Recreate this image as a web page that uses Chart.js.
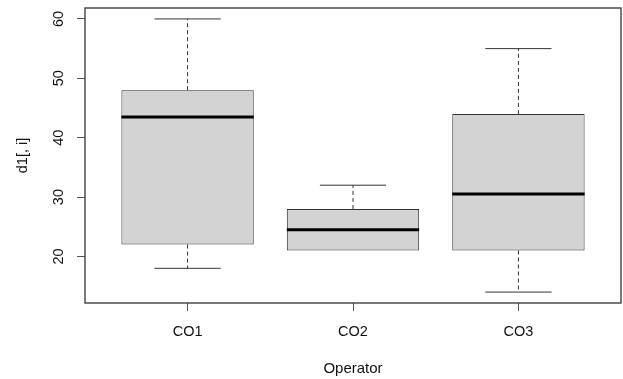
<!DOCTYPE html>
<html>
<head>
<meta charset="utf-8">
<script src="https://cdn.jsdelivr.net/npm/chart.js@4/dist/chart.umd.min.js"></script>
<style>
  html, body { margin: 0; padding: 0; background: #fff; }
  #wrap { width: 623px; height: 379px; }
</style>
</head>
<body>
<div id="wrap"><canvas id="c" width="623" height="379"></canvas></div>
<script>
// Five-number summaries per operator
const categories   = ['CO1', 'CO2', 'CO3'];
const lowerWhisker = [18, 21, 14];
const lowerHinge   = [22, 21, 21];
const medians      = [43.5, 24.5, 30.5];
const upperHinge   = [48, 28, 44];
const upperWhisker = [60, 32, 55];
const yTicks       = [20, 30, 40, 50, 60];

const FONT = '"Liberation Sans", Arial, Helvetica, sans-serif';
const INK = '#333333';

// Box bodies: floating bars from lower to upper hinge
const boxData = categories.map((c, i) => ({ x: i + 1, y: [lowerHinge[i], upperHinge[i]] }));

// Axis limits padded by 4% like a base-graphics plot
const yLo = Math.min(...lowerWhisker), yHi = Math.max(...upperWhisker);
const yPad = (yHi - yLo) * 0.04;
const xLo = 0.5, xHi = categories.length + 0.5;
const xPad = (xHi - xLo) * 0.04;

const boxExtras = {
  id: 'boxExtras',
  afterDatasetsDraw(chart) {
    const { ctx, scales: { x, y } } = chart;
    const bars = chart.getDatasetMeta(0).data;
    ctx.save();
    categories.forEach((c, i) => {
      const cx = x.getPixelForValue(i + 1);
      const half = bars[i].width / 2;
      const capHalf = half / 2;
      const pLoW = y.getPixelForValue(lowerWhisker[i]);
      const pHiW = y.getPixelForValue(upperWhisker[i]);
      const pQ1 = y.getPixelForValue(lowerHinge[i]);
      const pQ3 = y.getPixelForValue(upperHinge[i]);
      const pMed = y.getPixelForValue(medians[i]);
      // dashed whiskers
      ctx.strokeStyle = INK;
      ctx.lineWidth = 1;
      ctx.setLineDash([4, 3]);
      ctx.beginPath();
      if (upperWhisker[i] > upperHinge[i]) { ctx.moveTo(cx, pQ3); ctx.lineTo(cx, pHiW); }
      if (lowerWhisker[i] < lowerHinge[i]) { ctx.moveTo(cx, pQ1); ctx.lineTo(cx, pLoW); }
      ctx.stroke();
      // staples
      ctx.setLineDash([]);
      ctx.beginPath();
      ctx.moveTo(cx - capHalf, pHiW); ctx.lineTo(cx + capHalf, pHiW);
      if (lowerWhisker[i] < lowerHinge[i]) { ctx.moveTo(cx - capHalf, pLoW); ctx.lineTo(cx + capHalf, pLoW); }
      ctx.stroke();
      // median
      ctx.strokeStyle = '#000';
      ctx.lineWidth = 3;
      ctx.beginPath();
      ctx.moveTo(cx - half, pMed); ctx.lineTo(cx + half, pMed);
      ctx.stroke();
    });
    // frame around plot region
    const a = chart.chartArea;
    ctx.strokeStyle = INK;
    ctx.lineWidth = 1.3;
    ctx.strokeRect(a.left, a.top, a.right - a.left, a.bottom - a.top);
    ctx.restore();
  }
};

new Chart(document.getElementById('c'), {
  type: 'bar',
  data: {
    datasets: [{
      data: boxData,
      backgroundColor: '#d3d3d3',
      borderColor: INK,
      borderWidth: 1,
      borderSkipped: false,
      categoryPercentage: 1,
      barPercentage: 0.8
    }]
  },
  options: {
    responsive: false,
    animation: false,
    layout: { padding: { left: 14, top: 8, right: 2, bottom: 1 } },
    plugins: { legend: { display: false }, tooltip: { enabled: false } },
    scales: {
      x: {
        type: 'linear',
        offset: false,
        min: xLo - xPad,
        max: xHi + xPad,
        afterBuildTicks(s) { s.ticks = categories.map((c, i) => ({ value: i + 1 })); },
        afterFit(s) { s.height = 75; s.paddingLeft = 0; s.paddingRight = 0; },
        grid: { display: true, offset: false, drawOnChartArea: false, drawTicks: true, tickLength: 8, color: '#555' },
        border: { display: false },
        ticks: {
          color: '#111',
          font: { family: FONT, size: 14.5 },
          padding: 12,
          maxRotation: 0,
          callback: (v) => categories[v - 1]
        },
        title: { display: true, text: 'Operator', color: '#111', font: { family: FONT, size: 15 }, padding: 0 }
      },
      y: {
        min: yLo - yPad,
        max: yHi + yPad,
        afterBuildTicks(s) { s.ticks = yTicks.map(v => ({ value: v })); },
        afterFit(s) { s.width = 71; s.paddingTop = 0; s.paddingBottom = 0; },
        grid: { display: true, drawOnChartArea: false, drawTicks: true, tickLength: 8, color: '#555' },
        border: { display: false },
        ticks: {
          color: '#111',
          font: { family: FONT, size: 14.5 },
          padding: 10,
          minRotation: 90,
          maxRotation: 90,
          crossAlign: 'center'
        },
        title: { display: true, text: 'd1[, i]', color: '#111', font: { family: FONT, size: 14.5 }, padding: 0 }
      }
    }
  },
  plugins: [boxExtras]
});
</script>
</body>
</html>
